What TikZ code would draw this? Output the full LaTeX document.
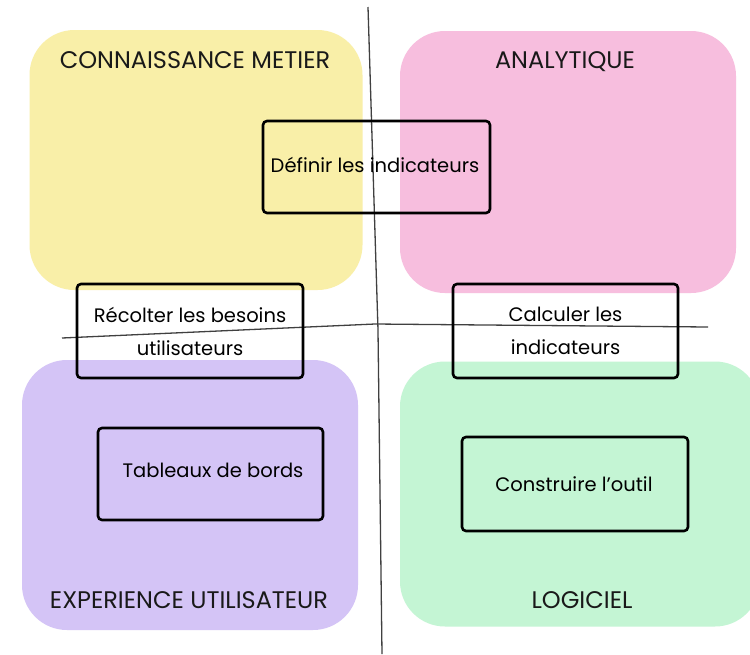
\documentclass[tikz,border=0pt]{standalone}
\usepackage{fontspec}
\setmainfont{Poppins}
\begin{document}
\begin{tikzpicture}[x=1pt,y=-1pt,
  blob/.style={draw=none, rounded corners=45pt, inner sep=0pt},
  title/.style={font=\fontsize{24}{28}\selectfont, text=black!90, inner sep=0pt},
  stepbox/.style={draw=black, line width=2.6pt, rounded corners=4pt, inner sep=0pt, align=center},
  boxtext/.style={font=\fontsize{19.5}{33}\selectfont, text=black},
  axis/.style={draw=black!75, line width=1.3pt}
]
\definecolor{cyellow}{RGB}{249,239,168}
\definecolor{cpink}{RGB}{247,190,222}
\definecolor{cpurple}{RGB}{212,196,246}
\definecolor{cgreen}{RGB}{196,245,212}
\useasboundingbox[fill=white] (0,0) rectangle (750,654);
% quadrant blobs
\node[blob, fill=cyellow, minimum width=333pt, minimum height=260pt] (yel) at (196,160) {};
\node[blob, fill=cpink, minimum width=336pt, minimum height=262pt] (pin) at (568,162) {};
\node[blob, fill=cpurple, minimum width=336pt, minimum height=270pt] (pur) at (190,495) {};
\node[blob, fill=cgreen, minimum width=360pt, minimum height=265pt] (gre) at (580,494) {};
% axes
\coordinate (vt) at (368,7);
\coordinate (vm) at (378,330);
\coordinate (vb) at (382,654);
\coordinate (hl) at (62,338);
\coordinate (hm) at (375,324);
\coordinate (hr) at (708,327);
\draw[axis] (vt) -- (vm) -- (vb);
\draw[axis] (hl) -- (hm) -- (hr);
% titles
\node[title] (t1) at (195,60) {CONNAISSANCE METIER};
\node[title] (t2) at (565,62) {ANALYTIQUE};
\node[title] (t3) at (189,600) {EXPERIENCE UTILISATEUR};
\node[title] (t4) at (582,600) {LOGICIEL};
% step boxes
\node[stepbox, minimum width=227pt, minimum height=92pt] (def) at (376.5,167) {};
\node[boxtext] at (375,165) {Définir les indicateurs};
\node[stepbox, minimum width=226pt, minimum height=94pt] (rec) at (190,331) {};
\node[boxtext, align=center] at (rec.center) {Récolter les besoins\\utilisateurs};
\node[stepbox, minimum width=225pt, minimum height=94pt] (cal) at (565.5,331) {};
\node[boxtext, align=center] at (cal.center) {Calculer les\\indicateurs};
\node[stepbox, minimum width=225pt, minimum height=92pt] (tab) at (210.5,474) {};
\node[boxtext] at (213,470) {Tableaux de bords};
\node[stepbox, minimum width=226pt, minimum height=94pt] (con) at (575,484) {};
\node[boxtext] at (574,484) {Construire l’outil};
\end{tikzpicture}
\end{document}
